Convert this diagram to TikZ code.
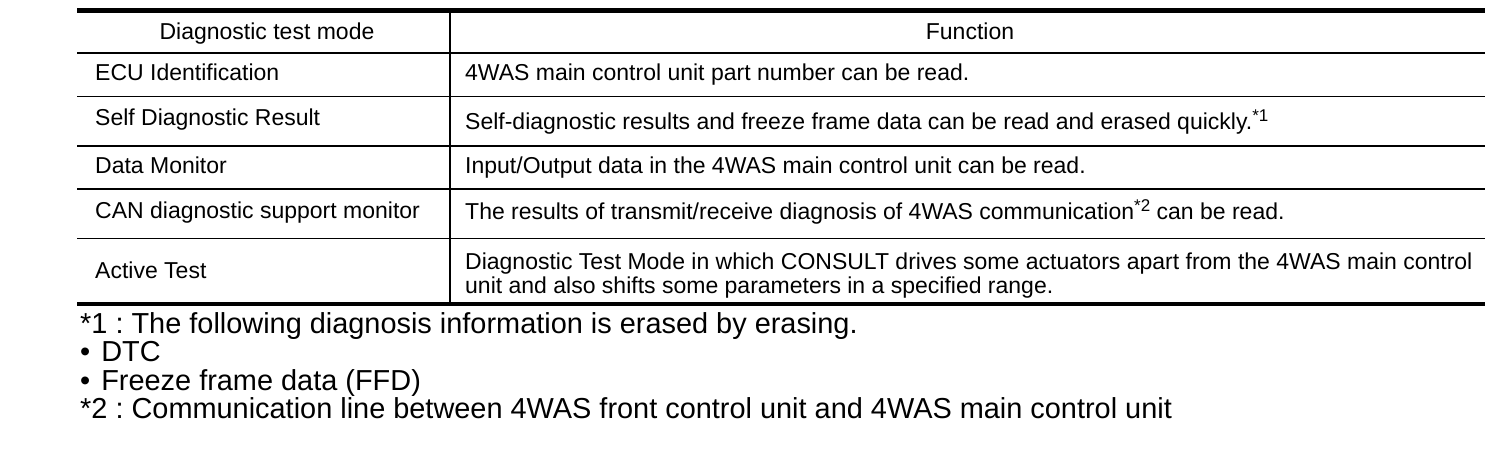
\documentclass[tikz,border=0pt]{standalone}
\usepackage{fontspec}
\setmainfont{Liberation Sans}
\frenchspacing
\begin{document}
\frenchspacing
\begin{tikzpicture}[x=1pt,y=-1pt,
  cell/.style={anchor=base west,inner sep=0pt,font=\fontsize{23}{24}\selectfont},
  head/.style={anchor=base,inner sep=0pt,font=\fontsize{23}{24}\selectfont},
  note/.style={anchor=base west,inner sep=0pt,font=\fontsize{28.9}{29}\selectfont},
  thickrule/.style={line width=4.3pt},
  midrule/.style={line width=2.7pt},
  thinrule/.style={line width=1.4pt},
  colrule/.style={line width=2.5pt}]
\useasboundingbox (0,0) rectangle (1504,454);
\fill[white] (0,0) rectangle (1504,454);
\newcommand{\supmark}[1]{{\fontsize{17}{17}\selectfont\raisebox{8pt}{#1}}}
% rules
\coordinate (tl) at (77,10.5); \coordinate (tr) at (1485,10.5);
\coordinate (hl) at (77,53); \coordinate (hr) at (1485,53);
\coordinate (r1l) at (77,96.5); \coordinate (r1r) at (1485,96.5);
\coordinate (r2l) at (77,146); \coordinate (r2r) at (1485,146);
\coordinate (r3l) at (77,189.3); \coordinate (r3r) at (1485,189.3);
\coordinate (r4l) at (77,238.5); \coordinate (r4r) at (1485,238.5);
\coordinate (bl) at (77,304); \coordinate (br) at (1485,304);
\coordinate (ct) at (450,10.5); \coordinate (cb) at (450,304);
\draw[colrule] (ct) -- (cb);
\draw[thickrule] (tl) -- (tr);
\draw[midrule] (hl) -- (hr);
\draw[thinrule] (r1l) -- (r1r);
\draw[line width=2.3pt] (r2l) -- (r2r);
\draw[line width=1.7pt] (r3l) -- (r3r);
\draw[thinrule] (r4l) -- (r4r);
\draw[thickrule] (bl) -- (br);
% header
\node[head] (h1) at (267,40) {Diagnostic test mode};
\node[head] (h2) at (970,40) {Function};
% rows
\node[cell] (a1) at (95,80.5) {ECU Identification};
\node[cell] (b1) at (465,80.5) {4WAS main control unit part number can be read.};
\node[cell] (a2) at (95,126) {Self Diagnostic Result};
\node[cell] (b2) at (465,130) {Self-diagnostic results and freeze frame data can be read and erased quickly.\supmark{*1}};
\node[cell] (a3) at (95,174) {Data Monitor};
\node[cell] (b3) at (465,174) {Input/Output data in the 4WAS main control unit can be read.};
\node[cell] (a4) at (95,218.5) {CAN diagnostic support monitor};
\node[cell] (b4) at (465,220) {The results of transmit/receive diagnosis of 4WAS communication\supmark{*2} can be read.};
\node[cell] (a5) at (95,279) {Active Test};
\node[cell] (b5a) at (465,269.5) {Diagnostic Test Mode in which CONSULT drives some actuators apart from the 4WAS main control};
\node[cell] (b5b) at (465,293.5) {unit and also shifts some parameters in a specified range.};
% notes
\node[note] (n1) at (80,333) {*1 : The following diagnosis information is erased by erasing.};
\node[note] (n2) at (80,361.5) {•\hspace{11pt}DTC};
\node[note] (n3) at (80,390) {•\hspace{11pt}Freeze frame data (FFD)};
\node[note] (n4) at (80,418.5) {*2 : Communication line between 4WAS front control unit and 4WAS main control unit};
\end{tikzpicture}
\end{document}
